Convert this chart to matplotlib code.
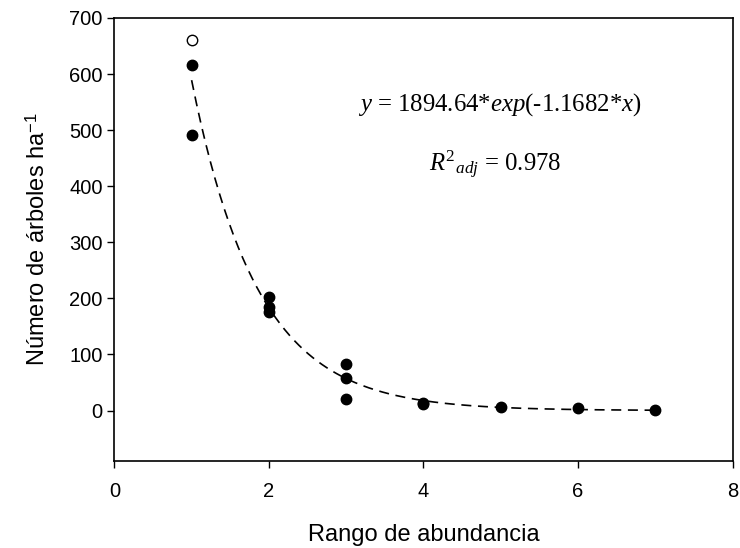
import numpy as np
import matplotlib
matplotlib.use("Agg")
import matplotlib.pyplot as plt

# data
x_filled = [1, 1, 2, 2, 2, 3, 3, 3, 4, 4, 5, 6, 7]
y_filled = [616, 491, 202, 185, 176, 83, 58, 21, 14, 12, 7, 4, 1]
x_open = [1]
y_open = [661]

# fitted model y = a*exp(b*x)
a, b = 1894.64, -1.1682

plt.rcParams['font.family'] = ['Liberation Sans', 'DejaVu Sans']
plt.rcParams['mathtext.fontset'] = 'custom'
plt.rcParams['mathtext.rm'] = 'Liberation Serif'
plt.rcParams['mathtext.it'] = 'Liberation Serif:italic'

fig = plt.figure(figsize=(7.4, 5.48), dpi=100)
ax = fig.add_axes([0.1545, 0.1588, 0.8355, 0.8084])

xf = np.linspace(1, 7, 200)
ax.plot(xf, a * np.exp(b * xf), color='black', linestyle=(0, (6, 4)), linewidth=1.2, zorder=2)
ax.plot(x_filled, y_filled, 'o', color='black', markersize=7.5, zorder=3)
ax.plot(x_open, y_open, 'o', markerfacecolor='white', markeredgecolor='black',
        markersize=7.5, markeredgewidth=1, zorder=3)

ax.set_xlim(0, 8)
ax.set_ylim(-90, 700)
ax.set_xticks([0, 2, 4, 6, 8])
ax.set_yticks(range(0, 701, 100))
ax.tick_params(direction='out', length=5, labelsize=14.5, top=False, right=False, width=1)
ax.tick_params(axis='x', pad=10)
for s in ax.spines.values():
    s.set_linewidth(1.2)

ax.set_xlabel('Rango de abundancia', fontsize=17, labelpad=17)
ax.set_ylabel('Número de árboles ha$^{\\mathregular{-1}}$', fontsize=17, labelpad=14)

serif = ['Liberation Serif', 'DejaVu Serif']
ax.text(0.624, 0.804, r'$\mathit{y}$ = 1894.64*$\mathit{exp}$(-1.1682*$\mathit{x}$)',
        transform=ax.transAxes, ha='center', va='center', fontsize=17.8, family=serif)
ax.text(0.616, 0.668, r'$R^{\mathrm{2}}{}_{adj}$ = 0.978',
        transform=ax.transAxes, ha='center', va='center', fontsize=17.8, family=serif)

fig.savefig('out.png', dpi=100)
